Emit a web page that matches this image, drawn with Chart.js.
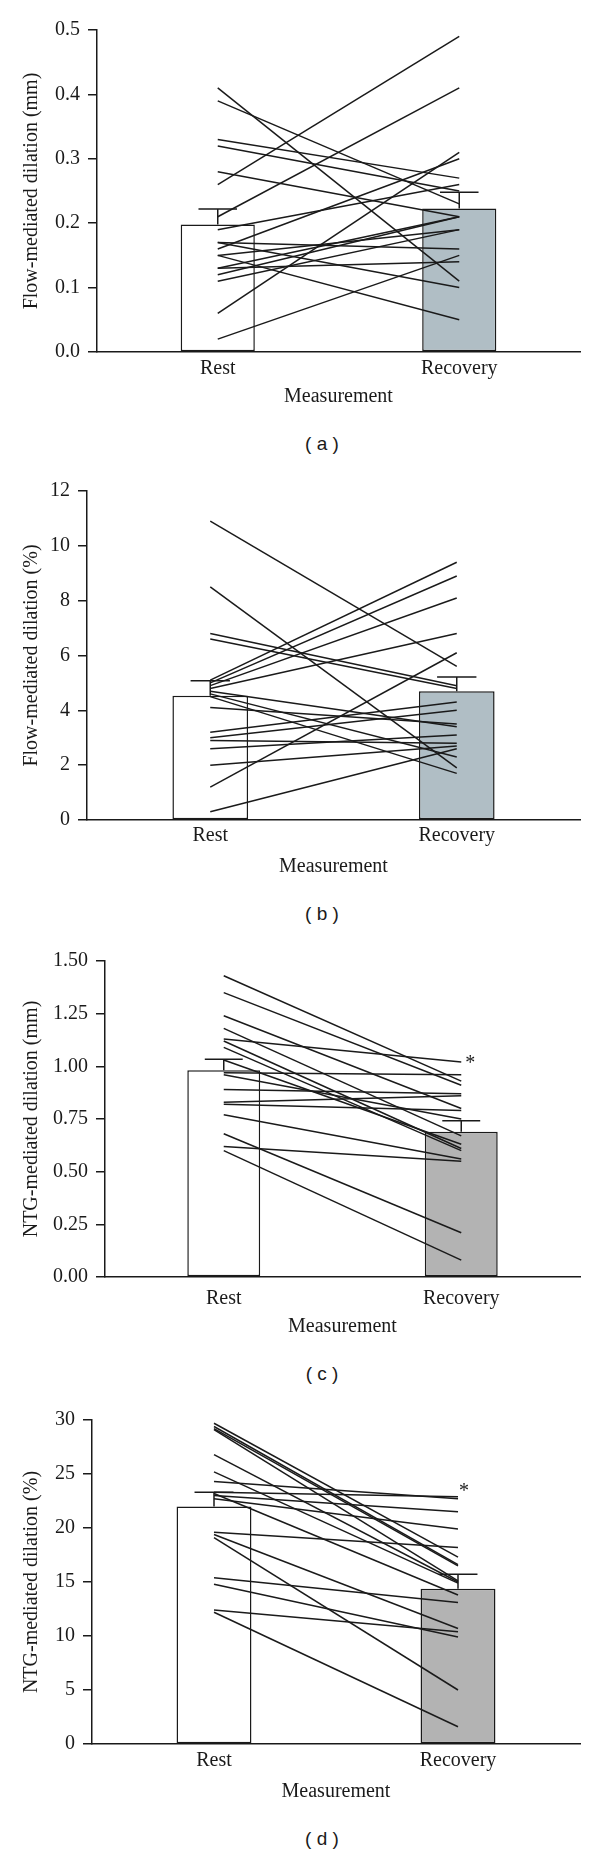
<!DOCTYPE html>
<html>
<head>
<meta charset="utf-8">
<title>Dilation at rest and recovery</title>
<script src="https://cdn.jsdelivr.net/npm/chart.js@4/dist/chart.umd.min.js"></script>
<style>
  html, body { margin: 0; padding: 0; background: #fff; }
  #page { position: relative; width: 600px; height: 1855px; overflow: hidden; }
  .panel { position: absolute; left: 0; width: 600px; }
  .tag {
    position: absolute;
    transform: translate(-50%, -50%);
    font-family: "Liberation Sans", Arial, sans-serif;
    font-size: 19px;
    color: #1a1a1a;
    white-space: pre;
  }
</style>
</head>
<body>
<div id="page">
  <div class="panel" style="top:0px"><canvas id="chart-a" width="600" height="420"></canvas></div>
  <div class="panel" style="top:470px"><canvas id="chart-b" width="600" height="420"></canvas></div>
  <div class="panel" style="top:940px"><canvas id="chart-c" width="600" height="420"></canvas></div>
  <div class="panel" style="top:1400px"><canvas id="chart-d" width="600" height="420"></canvas></div>

  <div class="tag" style="left:322px;top:444px">( a )</div>
  <div class="tag" style="left:322px;top:914px">( b )</div>
  <div class="tag" style="left:322px;top:1374px">( c )</div>
  <div class="tag" style="left:322px;top:1839px">( d )</div>
</div>

<script>
(function () {
  "use strict";

  // ── Data ───────────────────────────────────
  const CATEGORIES = ["Rest", "Recovery"];

  // (a) flow-mediated dilation, mm — one entry per subject
  const A_REST     = [0.41, 0.39, 0.33, 0.32, 0.28, 0.26, 0.21, 0.19, 0.17, 0.17, 0.16, 0.15, 0.15, 0.13, 0.13, 0.12, 0.11, 0.06, 0.02];
  const A_RECOVERY = [0.11, 0.23, 0.27, 0.25, 0.21, 0.49, 0.41, 0.26, 0.16, 0.10, 0.30, 0.05, 0.19, 0.21, 0.14, 0.21, 0.19, 0.31, 0.15];
  const A_MEAN     = [0.198, 0.223];
  const A_ERR_TOP  = [0.222, 0.248];
  const A_TICKS    = ["0.0", "0.1", "0.2", "0.3", "0.4", "0.5"];

  // (b) flow-mediated dilation, %
  const B_REST     = [10.9, 8.5, 6.8, 6.6, 5.1, 5.0, 4.9, 4.8, 4.7, 4.6, 4.5, 4.1, 3.2, 3.0, 2.9, 2.6, 2.0, 1.2, 0.3];
  const B_RECOVERY = [5.6, 1.9, 4.9, 4.8, 9.4, 8.9, 8.1, 6.8, 3.4, 2.3, 1.7, 3.5, 4.3, 4.0, 2.8, 3.1, 2.7, 6.1, 2.6];
  const B_MEAN     = [4.53, 4.70];
  const B_ERR_TOP  = [5.08, 5.22];
  const B_TICKS    = ["0", "2", "4", "6", "8", "10", "12"];

  // (c) NTG-mediated dilation, mm
  const C_REST     = [1.43, 1.35, 1.24, 1.18, 1.13, 1.12, 1.09, 1.03, 0.97, 0.96, 0.89, 0.83, 0.82, 0.77, 0.68, 0.62, 0.60];
  const C_RECOVERY = [0.93, 0.91, 0.80, 0.67, 1.02, 0.61, 0.60, 0.63, 0.96, 0.75, 0.87, 0.86, 0.79, 0.56, 0.21, 0.55, 0.08];
  const C_MEAN     = [0.982, 0.690];
  const C_ERR_TOP  = [1.034, 0.742];
  const C_TICKS    = ["0.00", "0.25", "0.50", "0.75", "1.00", "1.25", "1.50"];

  // (d) NTG-mediated dilation, %
  const D_REST     = [29.7, 29.4, 29.2, 29.1, 26.8, 25.2, 24.3, 23.3, 23.2, 23.0, 22.7, 19.6, 19.4, 19.1, 15.4, 14.8, 12.4, 12.2];
  const D_RECOVERY = [17.3, 16.6, 16.5, 15.1, 15.0, 14.9, 22.7, 22.9, 13.8, 21.5, 19.9, 18.2, 10.7, 5.0, 13.1, 9.9, 10.4, 1.6];
  const D_MEAN     = [22.0, 14.37];
  const D_ERR_TOP  = [23.3, 15.72];
  const D_TICKS    = ["0", "5", "10", "15", "20", "25", "30"];

  // significance marker (value on the y scale next to Recovery)
  const C_STAR = 1.03;
  const D_STAR = 23.7;

  // ── Style ──────────────────────────────────
  const INK = "#1a1a1a";
  const SERIF = { family: '"Liberation Serif", "Times New Roman", serif', size: 20 };
  const BLUE_GREY = "#b0bec5";
  const GREY = "#b3b3b3";
  const LINE_W = 1.5;

  // ── Error bars + asterisk ──────────────────
  const errorBars = {
    id: "errorBars",
    afterDatasetsDraw(chart, args, opts) {
      const ctx = chart.ctx;
      const y = chart.scales.y;
      const barIndex = chart.data.datasets.length - 1;
      const meta = chart.getDatasetMeta(barIndex);
      ctx.save();
      ctx.strokeStyle = INK;
      ctx.lineWidth = LINE_W;
      meta.data.forEach((bar, i) => {
        const top = y.getPixelForValue(opts.top[i]);
        const half = bar.width * 0.26;
        ctx.beginPath();
        ctx.moveTo(bar.x, bar.y);
        ctx.lineTo(bar.x, top);
        ctx.moveTo(bar.x - half, top);
        ctx.lineTo(bar.x + half, top);
        ctx.stroke();
      });
      if (opts.star != null) {
        const rec = meta.data[1];
        ctx.fillStyle = INK;
        ctx.font = `${SERIF.size}px ${SERIF.family}`;
        ctx.textAlign = "center";
        ctx.textBaseline = "middle";
        ctx.fillText("*", rec.x + opts.starDx, y.getPixelForValue(opts.star) + 4);
      }
      ctx.restore();
    }
  };

  // ── Panel builder ──────────────────────────
  function makePanel(id, p) {
    const datasets = p.rest.map((r, i) => ({
      type: "line",
      data: [r, p.recovery[i]],
      borderColor: INK,
      borderWidth: LINE_W,
      pointRadius: 0,
      fill: false,
      order: 0
    }));
    datasets.push({
      type: "bar",
      data: p.mean,
      backgroundColor: ["#ffffff", p.fill],
      borderColor: INK,
      borderWidth: LINE_W,
      borderSkipped: false,
      barPercentage: 0.307,
      categoryPercentage: 1,
      order: 1
    });

    return new Chart(document.getElementById(id), {
      type: "bar",
      data: { labels: CATEGORIES, datasets },
      plugins: [errorBars],
      options: {
        responsive: false,
        animation: false,
        events: [],
        layout: { padding: { top: p.padTop, left: 0, right: 20, bottom: 0 } },
        plugins: {
          legend: { display: false },
          tooltip: { enabled: false },
          errorBars: { top: p.errTop, star: p.star, starDx: p.starDx }
        },
        scales: {
          x: {
            offset: true,
            grid: { display: false, drawTicks: false, tickLength: 0 },
            border: { display: true, color: INK, width: 1.5 },
            ticks: { color: INK, font: SERIF, padding: p.xPad, maxRotation: 0 },
            title: {
              display: true, text: "Measurement", color: INK, font: SERIF,
              padding: { top: 0, bottom: p.titlePad }
            },
            afterFit: (s) => { s.height = p.xHeight; }
          },
          y: {
            min: 0,
            max: p.max,
            ticks: {
              stepSize: p.step, color: INK, font: SERIF, padding: 8,
              callback: (v, i) => p.ticks[i]
            },
            grid: { drawOnChartArea: false, drawTicks: true, tickLength: 9, color: INK, lineWidth: 1.5 },
            border: { display: true, color: INK, width: 1.5 },
            title: {
              display: true, text: p.yTitle, color: INK, font: SERIF,
              padding: { top: 20, bottom: 0 }
            },
            afterFit: (s) => { s.width = p.left; }
          }
        }
      }
    });
  }

  // ── Init ───────────────────────────────────
  makePanel("chart-a", {
    rest: A_REST, recovery: A_RECOVERY, mean: A_MEAN, errTop: A_ERR_TOP, ticks: A_TICKS,
    max: 0.5, step: 0.1, fill: BLUE_GREY, yTitle: "Flow-mediated dilation (mm)",
    padTop: 30, left: 97, xHeight: 68, xPad: 5, titlePad: 11
  });
  makePanel("chart-b", {
    rest: B_REST, recovery: B_RECOVERY, mean: B_MEAN, errTop: B_ERR_TOP, ticks: B_TICKS,
    max: 12, step: 2, fill: BLUE_GREY, yTitle: "Flow-mediated dilation (%)",
    padTop: 21, left: 87, xHeight: 70, xPad: 4, titlePad: 11
  });
  makePanel("chart-c", {
    rest: C_REST, recovery: C_RECOVERY, mean: C_MEAN, errTop: C_ERR_TOP, ticks: C_TICKS,
    max: 1.5, step: 0.25, fill: GREY, yTitle: "NTG-mediated dilation (mm)",
    padTop: 21, left: 105, xHeight: 83, xPad: 10, titlePad: 21,
    star: C_STAR, starDx: 9
  });
  makePanel("chart-d", {
    rest: D_REST, recovery: D_RECOVERY, mean: D_MEAN, errTop: D_ERR_TOP, ticks: D_TICKS,
    max: 30, step: 5, fill: GREY, yTitle: "NTG-mediated dilation (%)",
    padTop: 19, left: 92, xHeight: 76, xPad: 5, titlePad: 16,
    star: D_STAR, starDx: 6
  });
})();
</script>
</body>
</html>
